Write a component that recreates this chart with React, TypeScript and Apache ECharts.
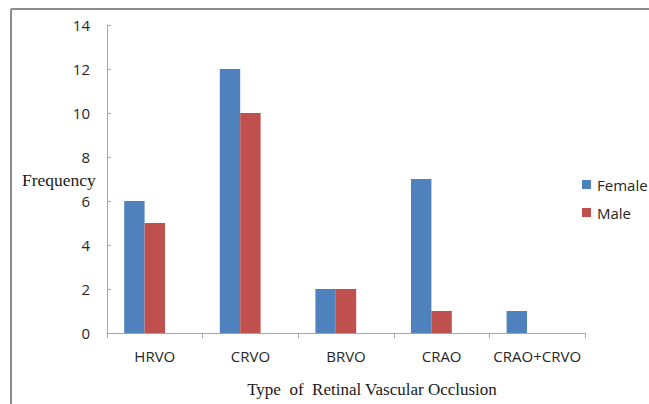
import React, { useEffect, useRef } from "react";
import * as echarts from "echarts";

const categories = ["HRVO", "CRVO", "BRVO", "CRAO", "CRAO+CRVO"];
const female = [6, 12, 2, 7, 1];
const male = [5, 10, 2, 1, 0];
// The original chart reserves an empty third bar slot in each category.
const emptySlot: (number | null)[] = [null, null, null, null, null];
const seriesNames = ["Female", "Male"];
const xTitle = "Type  of  Retinal Vascular Occlusion";
const yTitle = "Frequency";

export default function App() {
  const ref = useRef<HTMLDivElement>(null);
  useEffect(() => {
    if (!ref.current) return;
    const chart = echarts.init(ref.current, null, { renderer: "svg" });
    const sans = "'Open Sans', 'Liberation Sans', sans-serif";
    const serif = "'Liberation Serif', 'DejaVu Serif', serif";
    chart.setOption({
      animation: false,
      backgroundColor: "#ffffff",
      grid: { left: 107, right: 64, top: 25, bottom: 71, containLabel: false },
      legend: {
        orient: "vertical",
        left: 577,
        top: 172,
        itemWidth: 9,
        itemHeight: 9,
        itemGap: 13,
        icon: "rect",
        textStyle: { fontFamily: sans, fontSize: 15, color: "#262626", padding: [0, 0, 0, 1] },
        data: seriesNames,
      },
      xAxis: {
        type: "category",
        data: categories,
        axisLine: { lineStyle: { color: "#a6a6a6", width: 1 } },
        axisTick: { show: true, length: 5, lineStyle: { color: "#a6a6a6" } },
        axisLabel: { interval: 0, fontFamily: sans, fontSize: 15, color: "#262626", margin: 15 },
      },
      yAxis: {
        type: "value",
        min: 0,
        max: 14,
        interval: 2,
        splitLine: { show: false },
        axisLine: { show: true, lineStyle: { color: "#a6a6a6", width: 1 } },
        axisTick: { show: true, inside: true, length: 4, lineStyle: { color: "#a6a6a6" } },
        axisLabel: { fontFamily: sans, fontSize: 15, color: "#262626", margin: 17 },
      },
      series: [
        {
          name: seriesNames[0],
          type: "bar",
          data: female,
          barGap: "0%",
          barCategoryGap: "36%",
          itemStyle: { color: "#4f81bd" },
        },
        {
          name: seriesNames[1],
          type: "bar",
          data: male,
          itemStyle: { color: "#c0504d" },
        },
        {
          name: "_empty",
          type: "bar",
          data: emptySlot,
          itemStyle: { color: "#9bbb59" },
        },
      ],
      graphic: [
        {
          type: "line",
          shape: { x1: 11, y1: 9, x2: 649, y2: 9 },
          style: { stroke: "#8c8c8c", lineWidth: 2 },
        },
        {
          type: "line",
          shape: { x1: 11, y1: 9, x2: 11, y2: 404 },
          style: { stroke: "#8c8c8c", lineWidth: 2 },
        },
        {
          type: "text",
          x: 22,
          y: 180,
          style: {
            text: yTitle,
            font: `17.5px ${serif}`,
            fill: "#1a1a1a",
            textAlign: "left",
            textVerticalAlign: "middle",
          },
        },
        {
          type: "text",
          x: 372,
          y: 389,
          style: {
            text: xTitle,
            font: `17px ${serif}`,
            fill: "#1a1a1a",
            textAlign: "center",
            textVerticalAlign: "middle",
          },
        },
      ],
    });
    return () => chart.dispose();
  }, []);
  return (
    <div
      ref={ref}
      style={{ position: "fixed", left: 0, top: 0, width: 649, height: 404 }}
    />
  );
}
